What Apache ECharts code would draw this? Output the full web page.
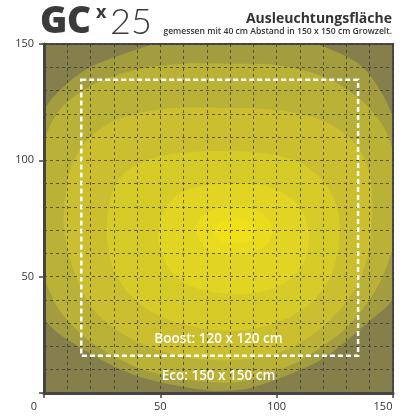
<!DOCTYPE html>
<html><head><meta charset="utf-8">
<script src="https://cdn.jsdelivr.net/npm/echarts@6/dist/echarts.min.js"></script>
<style>html,body{margin:0;padding:0;background:#fff}#c{width:416px;height:416px}</style>
</head><body><div id="c"></div>
<script>
// ---- data ----
const xTicks = [0, 50, 100, 150];
const yTicks = [0, 50, 100, 150];
const bandColors = ['#857f4b', '#a39d3f', '#bab137', '#cbbf2f', '#d7cb28', '#e1d422', '#e9db1d', '#efe019'];
const band0 = [[-5,-5],[155,-5],[155,155],[-5,155]];
const contour1 = [[-8,76],[0,121],[10,133],[21,140.6],[41,148],[55,152],[78,155],[100,153],[117,150],[137,140],[150,118.5],[157,80],[150,41],[140,31],[118.5,14],[90,2.5],[78,1],[67,1.5],[41,7],[20,17],[0,32.6]];
const contour2 = [[-3,80],[0,108],[7,122],[20,132],[40,139],[60,141.5],[78,141.5],[100,141],[120,136],[135,127],[145,116],[150,104],[153,84],[150,63],[143,45],[130,28],[110,14],[90,6],[78,4.4],[60,6],[40,11],[20,22],[7,35],[0,50],[-3,65]];
const contour3 = [[8.5,72],[11,95],[18,108],[30,117],[50,122],[78,122.6],[105,121],[122,116],[134,107],[140,94],[141,76],[139,58],[132,42],[118,27],[100,17],[78,14],[58,16],[38,23],[22,35],[13,52]];
const contour4 = [[27,68],[29,85],[35,95],[47,101],[62,103.5],[78,104],[95,103],[110,99],[120,91],[126,80],[127,68],[124,52],[116,40],[102,31],[85,27],[70,27.5],[52,32],[38,41],[30,53]];
const contour5 = [[49,66],[51,77],[57,85],[68,89],[80,90],[95,89],[106,84],[112,76],[114,66],[111,55],[103,47],[90,43],[76,43],[63,46],[54,53]];
const contour6 = [[65,70],[68,76],[75,79.5],[83,80.5],[91,79],[97,74],[98,68],[95,63],[88,60],[78,59.5],[70,62]];
const contour7 = [[73,70],[77,74],[84,75],[90,73],[91,68],[87,65],[80,64.5],[75,66]];
const contours = [band0, contour1, contour2, contour3, contour4, contour5, contour6, contour7];
const boostBox = [16, 16, 135, 134.6]; // x0, y0, x1, y1
const areaLabels = [['Boost: 120 x 120 cm', 75, 23.3], ['Eco: 150 x 150 cm', 75, 7.4]];
const titleText = 'Ausleuchtungsfläche';
const subtitleText = 'gemessen mit 40 cm Abstand in 150 x 150 cm Growzelt.';

const chart = echarts.init(document.getElementById('c'), null, {renderer: 'canvas'});
const gridLine = {color: 'rgba(50,50,50,0.7)', width: 1, type: [3, 3]};
const labelColor = '#333';

chart.setOption({
  animation: false,
  grid: {left: 44, right: 23, top: 44, bottom: 23, show: true, borderColor: '#4a4a4a', borderWidth: 2, backgroundColor: 'transparent', z: 10},
  xAxis: {
    type: 'value', min: xTicks[0], max: xTicks[xTicks.length - 1], interval: 50, z: 10,
    axisLine: {show: true, lineStyle: {color: '#444', width: 3}},
    axisTick: {show: true, length: 5, lineStyle: {color: '#444', width: 1.5}},
    axisLabel: {
      color: labelColor, fontSize: 11, margin: 8, fontFamily: 'Open Sans',
      formatter: v => (v === 0 || v === 150) ? '{s|' + v + '}' : String(v),
      rich: {s: {padding: [0, 20, 0, 0], fontSize: 11, color: labelColor, fontFamily: 'Open Sans'}}
    },
    splitLine: {show: true, lineStyle: gridLine},
    minorTick: {show: false, splitNumber: 5},
    minorSplitLine: {show: true, lineStyle: gridLine}
  },
  yAxis: {
    type: 'value', min: yTicks[0], max: yTicks[yTicks.length - 1], interval: 50, z: 10,
    axisLine: {show: true, lineStyle: {color: '#444', width: 3}},
    axisTick: {show: true, length: 5, lineStyle: {color: '#444', width: 1.5}},
    axisLabel: {color: labelColor, fontSize: 11, margin: 10, fontFamily: 'Open Sans', formatter: v => v === 0 ? '' : String(v)},
    splitLine: {show: true, lineStyle: gridLine},
    minorTick: {show: false, splitNumber: 5},
    minorSplitLine: {show: true, lineStyle: gridLine}
  },
  series: [
    {
      type: 'custom', coordinateSystem: 'cartesian2d', clip: true, z: 1, silent: true,
      data: contours.map((c, i) => [i, i]),
      renderItem: (params, api) => {
        const i = params.dataIndex;
        const pts = contours[i].map(p => api.coord(p));
        return {type: 'polygon', shape: {points: pts, smooth: i === 0 ? 0 : 0.3}, style: {fill: bandColors[i]}};
      }
    },
    {
      type: 'custom', coordinateSystem: 'cartesian2d', z: 20, silent: true,
      data: [boostBox],
      renderItem: (params, api) => {
        const a = api.coord([api.value(0), api.value(1)]);
        const b = api.coord([api.value(2), api.value(3)]);
        return {type: 'rect', shape: {x: a[0], y: b[1], width: b[0] - a[0], height: a[1] - b[1]},
          style: {fill: 'none', stroke: '#fff', lineWidth: 2.5, lineDash: [5, 3]}};
      }
    },
    {
      type: 'custom', coordinateSystem: 'cartesian2d', z: 21, silent: true,
      data: areaLabels.map(l => [l[1], l[2]]),
      renderItem: (params, api) => {
        const p = api.coord([api.value(0), api.value(1)]);
        return {type: 'text', x: p[0], y: p[1], style: {text: areaLabels[params.dataIndex][0], fill: '#fff',
          font: '600 13.5px "Open Sans"', align: 'center', verticalAlign: 'middle'}};
      }
    }
  ],
  graphic: [
    {type: 'text', x: 40, y: 22.5, style: {text: 'G', font: '800 37px "Open Sans"', fill: '#3a3a3a', verticalAlign: 'middle'}},
    {type: 'text', x: 67, y: 22.5, style: {text: 'C', font: '800 37px "Open Sans"', fill: '#3a3a3a', verticalAlign: 'middle'}},
    {type: 'text', x: 96, y: 13, style: {text: 'x', font: 'bold 18px "Open Sans"', fill: '#3a3a3a', verticalAlign: 'middle'}},
    {type: 'text', x: 110, y: 22.5, style: {text: '25', font: '300 36px Lato', fill: '#3a3a3a', verticalAlign: 'middle'}},
    {type: 'text', x: 392, y: 19, style: {text: titleText, font: 'bold 14px "Open Sans"', fill: '#333', align: 'right', verticalAlign: 'middle'}},
    {type: 'text', x: 392, y: 32, style: {text: subtitleText, font: '600 8.6px "Open Sans"', fill: '#333', align: 'right', verticalAlign: 'middle'}}
  ]
});
</script></body></html>
